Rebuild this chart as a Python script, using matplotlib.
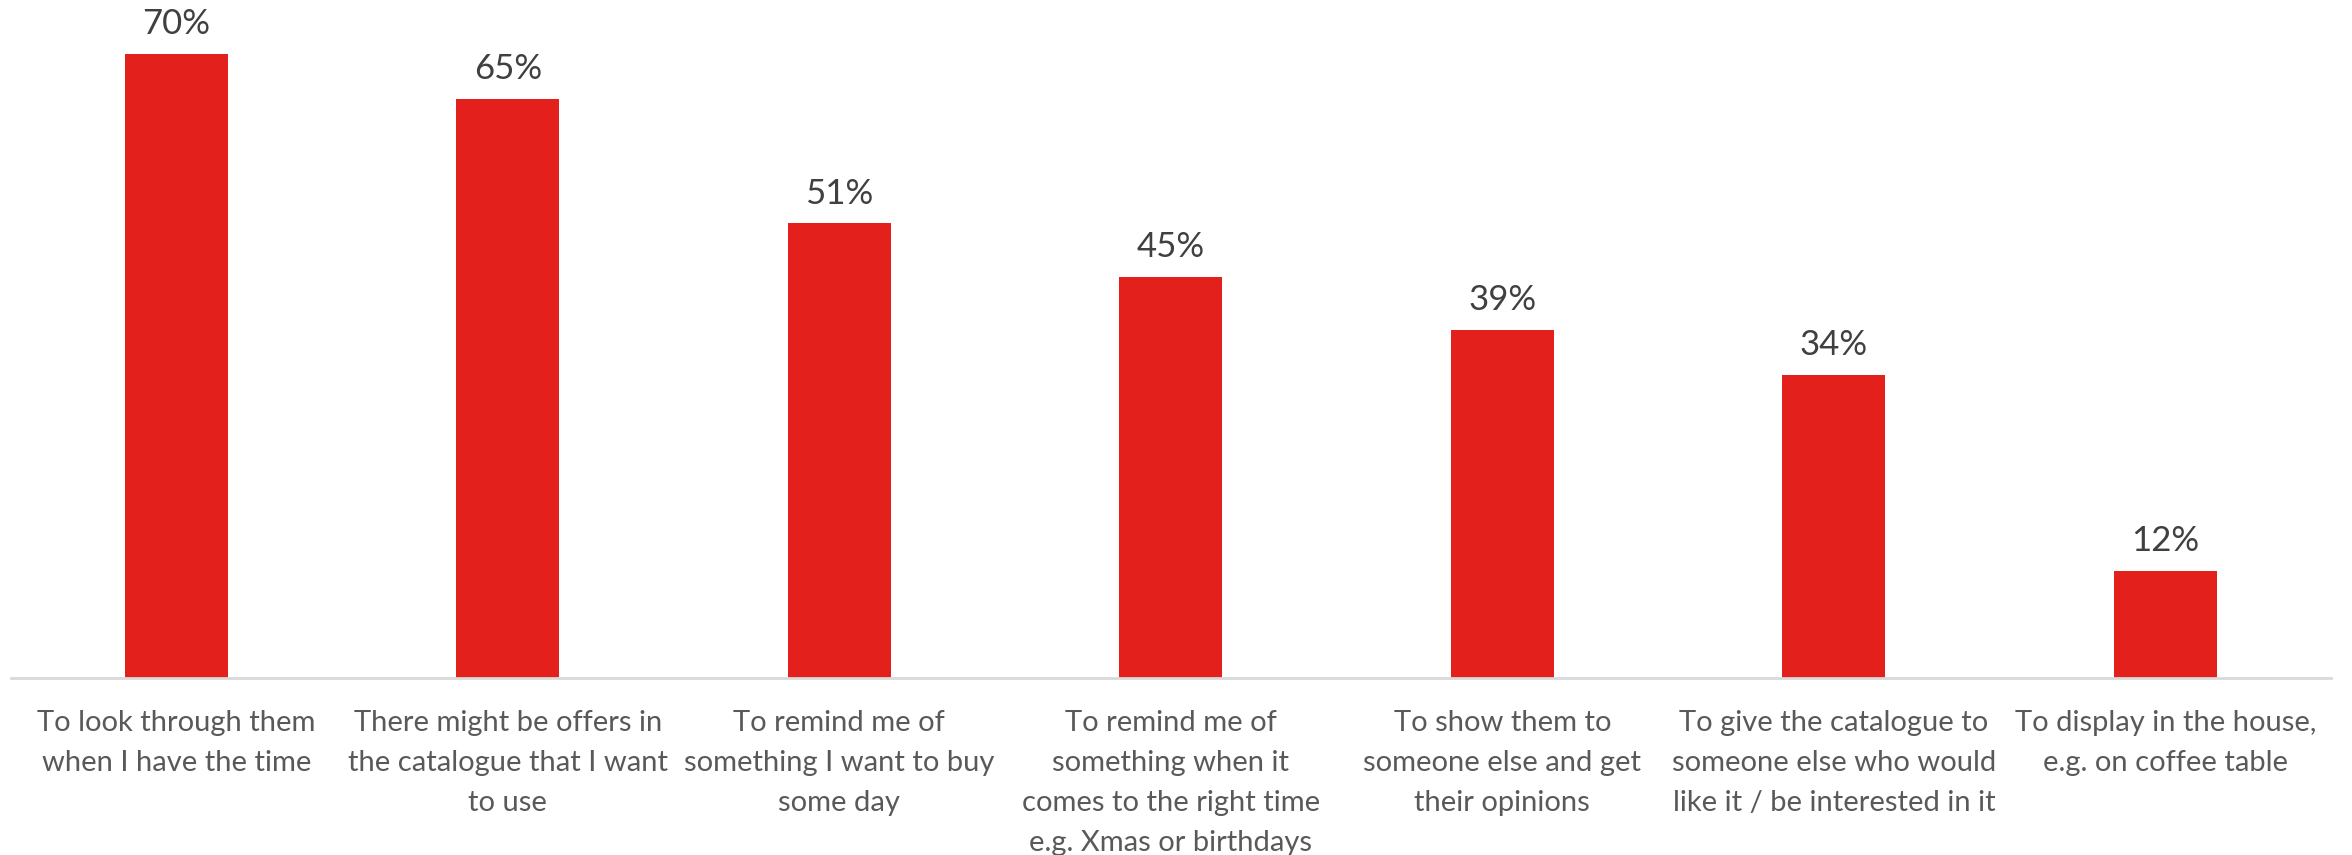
import matplotlib
matplotlib.use('Agg')
import matplotlib.pyplot as plt

categories = [
    'To look through them\nwhen I have the time',
    'There might be offers in\nthe catalogue that I want\nto use',
    'To remind me of\nsomething I want to buy\nsome day',
    'To remind me of\nsomething when it\ncomes to the right time\ne.g. Xmas or birthdays',
    'To show them to\nsomeone else and get\ntheir opinions',
    'To give the catalogue to\nsomeone else who would\nlike it / be interested in it',
    'To display in the house,\ne.g. on coffee table',
]
values = [70, 65, 51, 45, 39, 34, 12]

plt.rcParams['font.family'] = ['Lato', 'DejaVu Sans']

fig = plt.figure(figsize=(23.52, 8.55), dpi=100)
ax = fig.add_axes([0.0045, 0.207, 0.9866, 0.7298])

x = range(len(values))
bars = ax.bar(x, values, width=0.31, color='#E3201B')

# value labels above bars
for b, v in zip(bars, values):
    ax.annotate(f'{v}%', (b.get_x() + b.get_width() / 2, v),
                xytext=(0, 10), textcoords='offset points',
                ha='center', va='bottom', fontsize=25, color='#404040',
                annotation_clip=False)

ax.set_xlim(-0.5, len(values) - 0.5)
ax.set_ylim(0, 70)
ax.set_xticks(list(x))
ax.set_xticklabels(categories, fontsize=21, color='#595959', linespacing=1.66, va='top')
ax.tick_params(axis='x', length=0, pad=23)
ax.set_yticks([])

for s in ['top', 'right', 'left']:
    ax.spines[s].set_visible(False)
ax.spines['bottom'].set_color('#D9D9D9')
ax.spines['bottom'].set_linewidth(2)

fig.savefig('out.png', dpi=100)
